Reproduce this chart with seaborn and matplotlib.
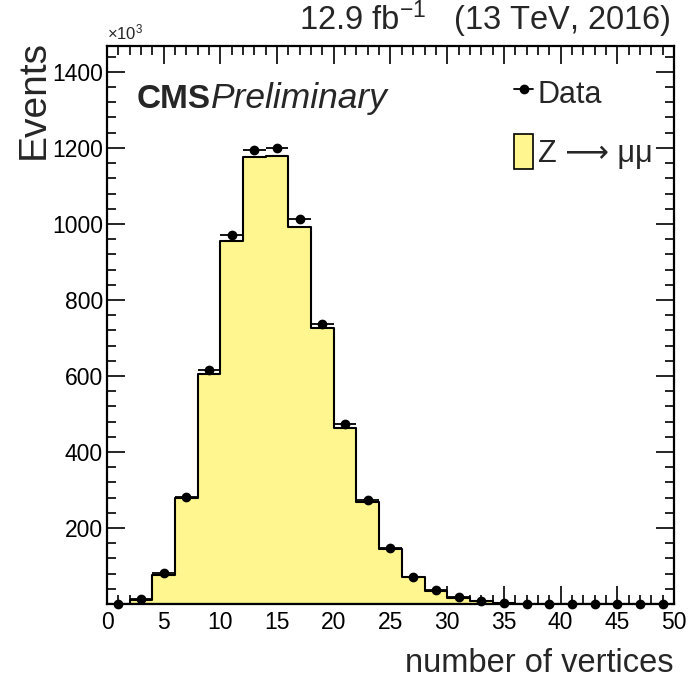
import numpy as np
import pandas as pd
import matplotlib
matplotlib.use("Agg")
import matplotlib.pyplot as plt
import seaborn as sns
from matplotlib.lines import Line2D
from matplotlib.patches import Patch
from matplotlib.ticker import MultipleLocator, FixedLocator

# Primary-vertex multiplicity, events in units of 10^3, 2-vertex bins from 0 to 50
bin_edges = list(range(0, 52, 2))
zmumu_sim = [0, 10, 76, 278, 605, 955, 1176, 1180, 993, 725, 464, 269, 144,
             70, 35, 17, 7, 3, 1, 0.4, 0.2, 0, 0, 0, 0]
data_obs = [0, 13, 81, 281, 616, 972, 1195, 1200, 1012, 737, 473, 273, 147,
            72, 38, 19, 8, 3, 1, 0.5, 0.2, 0, 0, 0, 0]
x_ticks = [0, 5, 10, 15, 20, 25, 30, 35, 40, 45, 50]
y_ticks = [200, 400, 600, 800, 1000, 1200, 1400]

edges = np.array(bin_edges, dtype=float)
centers = 0.5 * (edges[:-1] + edges[1:])
half_width = 0.5 * np.diff(edges)
df = pd.DataFrame({"nvtx": centers, "sim": zmumu_sim, "data": data_obs})

sns.set_style("ticks")
plt.rcParams["font.family"] = ["Liberation Sans", "DejaVu Sans"]
plt.rcParams["mathtext.fontset"] = "custom"
plt.rcParams["mathtext.rm"] = "Liberation Sans"
plt.rcParams["mathtext.it"] = "Liberation Sans:italic"
plt.rcParams["mathtext.bf"] = "Liberation Sans:bold"

yellow = "#fff68f"

fig = plt.figure(figsize=(6.89, 6.78), dpi=100)
ax = fig.add_axes([0.1553, 0.1091, 0.8229, 0.8230])

sns.histplot(data=df, x="nvtx", weights="sim", bins=bin_edges, element="step",
             fill=True, color=yellow, edgecolor="black", linewidth=1.5,
             alpha=1, ax=ax, zorder=2)

ax.errorbar(df["nvtx"], df["data"], xerr=half_width, fmt="o", color="black",
            ms=6, elinewidth=1.3, capsize=0, zorder=4, clip_on=False)

ax.set_xlim(0, 50)
ax.set_ylim(0, 1468)
ax.xaxis.set_major_locator(FixedLocator(x_ticks))
ax.xaxis.set_minor_locator(MultipleLocator(1))
ax.yaxis.set_major_locator(FixedLocator(y_ticks))
ax.yaxis.set_minor_locator(MultipleLocator(40))
ax.set_xticklabels([str(v) for v in x_ticks])
ax.set_yticklabels([str(v) for v in y_ticks])

ax.tick_params(which="both", direction="in", top=True, right=True,
               width=1.2, colors="black", labelsize=16.5)
ax.tick_params(which="major", length=13)
ax.tick_params(which="minor", length=6.5)
ax.tick_params(axis="y", pad=3)
ax.tick_params(axis="x", pad=5)
for s in ax.spines.values():
    s.set_linewidth(1.6)
    s.set_color("black")
    s.set_visible(True)

ax.set_xlabel("number of vertices", fontsize=23.5, loc="right", labelpad=10)
ax.set_ylabel("Events", fontsize=28, loc="top")
ax.yaxis.set_label_coords(-0.097, 1.011)

ax.text(0.0, 1.006, "×10$^{3}$", transform=ax.transAxes, fontsize=12,
        ha="left", va="bottom")
ax.text(0.995, 1.01, "12.9 fb$^{-1}$   (13 TeV, 2016)", transform=ax.transAxes,
        fontsize=23.5, ha="right", va="bottom")

cms = ax.text(0.053, 0.889, "CMS", transform=ax.transAxes, fontsize=24,
              fontweight="bold", ha="left", va="baseline")
ax.annotate("Preliminary", xy=(1, 0), xycoords=cms, fontsize=25.5,
            style="italic", ha="left", va="bottom")

handles = [
    Line2D([0], [0], marker="o", color="black", ms=6, lw=1.3),
    Patch(facecolor=yellow, edgecolor="black", linewidth=1.2),
]
ax.legend(handles, ["Data", "Z ⟶ μμ"], loc="upper left",
          bbox_to_anchor=(0.718, 0.947), frameon=False, fontsize=22,
          handlelength=0.62, handleheight=1.35, handletextpad=0.15,
          labelspacing=0.8, borderpad=0, borderaxespad=0)

fig.savefig("out.png", dpi=100)
